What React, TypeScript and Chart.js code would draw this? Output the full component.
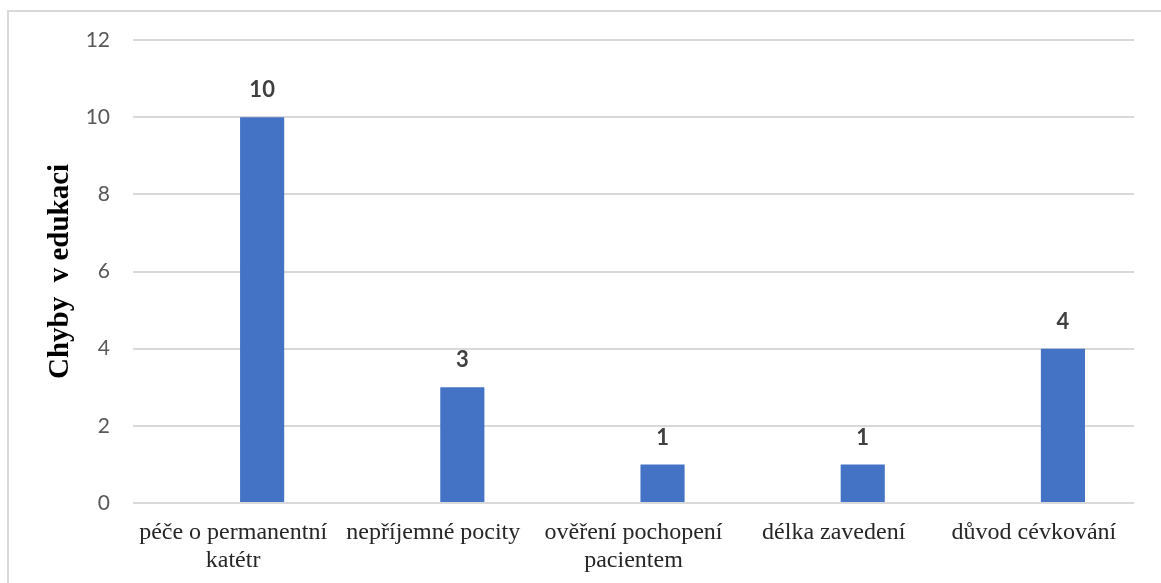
import React, { useEffect, useRef } from "react";
import { Chart, registerables } from "chart.js";

Chart.register(...registerables);

// Categories (multi-line labels) and error counts
const categories: (string | string[])[] = [
  ["péče o permanentní", "katétr"],
  "nepříjemné pocity",
  ["ověření pochopení", "pacientem"],
  "délka zavedení",
  "důvod cévkování",
];
const errorCounts: number[] = [10, 3, 1, 1, 4];
const emptySeries: (number | null)[] = [null, null, null, null, null];
const yTicks: number[] = [0, 2, 4, 6, 8, 10, 12];
const yTitle = "Chyby  v edukaci";

const WIDTH = 1161;
const HEIGHT = 583;

// Light frame around the whole chart
const framePlugin = {
  id: "frame",
  beforeDraw(chart: any) {
    const ctx = chart.ctx;
    ctx.save();
    ctx.fillStyle = "#ffffff";
    ctx.fillRect(0, 0, chart.width, chart.height);
    ctx.strokeStyle = "#d9d9d9";
    ctx.lineWidth = 2;
    ctx.strokeRect(8, 11, chart.width + 20, chart.height + 20);
    ctx.restore();
  },
};

// Value labels drawn above each bar
const valueLabelPlugin = {
  id: "valueLabels",
  afterDatasetsDraw(chart: any) {
    const ctx = chart.ctx;
    const meta = chart.getDatasetMeta(1);
    const data = chart.data.datasets[1].data;
    ctx.save();
    ctx.font = "bold 22px Lato, 'Open Sans', sans-serif";
    ctx.fillStyle = "#404040";
    ctx.textAlign = "center";
    ctx.textBaseline = "middle";
    meta.data.forEach((el: any, i: number) => {
      const v = data[i];
      if (v === null || v === undefined) return;
      ctx.fillText(String(v), el.x, el.y - 27);
    });
    ctx.restore();
  },
};

export default function App() {
  const canvasRef = useRef<HTMLCanvasElement | null>(null);

  useEffect(() => {
    if (!canvasRef.current) return;
    const chart = new Chart(canvasRef.current, {
      type: "bar",
      data: {
        labels: categories,
        datasets: [
          {
            label: "",
            data: emptySeries,
            backgroundColor: "#4472C4",
          },
          {
            label: "Chyby v edukaci",
            data: errorCounts,
            backgroundColor: "#4472C4",
          },
        ],
      },
      options: {
        animation: false,
        responsive: false,
        maintainAspectRatio: false,
        layout: { padding: { top: 40, right: 27, bottom: 0, left: 0 } },
        datasets: {
          bar: { categoryPercentage: 0.58, barPercentage: 0.76 },
        },
        plugins: {
          legend: { display: false },
          tooltip: { enabled: false },
          title: { display: false },
        },
        scales: {
          x: {
            grid: { display: false, drawTicks: false },
            border: { display: false },
            ticks: {
              color: "#262626",
              padding: 16,
              maxRotation: 0,
              autoSkip: false,
              font: { family: "'Liberation Serif', 'Times New Roman', serif", size: 24, lineHeight: 1.15 },
            },
            afterFit(scale: any) {
              scale.height = 80;
            },
          },
          y: {
            min: 0,
            max: 12,
            afterBuildTicks(scale: any) {
              scale.ticks = yTicks.map((v) => ({ value: v }));
            },
            grid: { color: "#d9d9d9", lineWidth: 2, drawTicks: false },
            border: { display: false },
            ticks: {
              color: "#595959",
              padding: 23,
              font: { family: "Lato, 'Open Sans', sans-serif", size: 21 },
            },
            title: {
              display: true,
              text: yTitle,
              color: "#000000",
              padding: { top: 46, bottom: 0 },
              font: { family: "'Liberation Serif', 'Times New Roman', serif", size: 29, weight: "bold", lineHeight: 1 },
            },
            afterFit(scale: any) {
              scale.width = 133;
            },
          },
        },
      },
      plugins: [framePlugin, valueLabelPlugin],
    });
    return () => chart.destroy();
  }, []);

  return (
    <div style={{ position: "fixed", left: 0, top: 0, width: WIDTH, height: HEIGHT }}>
      <canvas ref={canvasRef} width={WIDTH} height={HEIGHT} style={{ display: "block" }} />
    </div>
  );
}
